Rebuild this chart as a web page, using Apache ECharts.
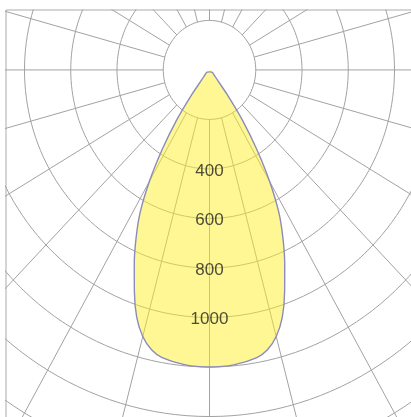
<!DOCTYPE html>
<html>
<head>
<meta charset="utf-8">
<script src="https://cdn.jsdelivr.net/npm/echarts@6/dist/echarts.min.js"></script>
<style>
    html, body { margin: 0; padding: 0; background: #fff; }
    #chart01 { width: 411px; height: 417px; }
</style>
</head>
<body>
<div id="chart01"></div>
<script>
// light distribution, angle from nadir (deg) -> intensity (cd), symmetric
var gammaAngles = [0, 5, 10, 12.5, 15, 17.5, 20, 22.5, 25, 27.5, 30, 32.5, 35, 37.5, 40, 45, 50];
var intensity   = [1200, 1196, 1180, 1158, 1115, 1047, 950, 850, 752, 650, 520, 380, 250, 125, 53, 28, 14];
var apexValue = 8;

// polar grid
var ringValues = [200, 400, 600, 800, 1000, 1200, 1400, 1600, 1800];
var spokeAngles = [0, 15, 30, 45, 60, 75, 90, 105, 120, 135, 150, 165, 180,
                   195, 210, 225, 240, 255, 270, 285, 300, 315, 330, 345];
var labelValues = [400, 600, 800, 1000];

function toXY(deg, r) {
    var a = deg * Math.PI / 180;
    return [r * Math.sin(a), r * Math.cos(a)];
}

function chart01(id) {
    var myChart = echarts.init(document.getElementById(id));
    var gridColor = '#a2a2a2';
    var series = [];

    // rings
    ringValues.forEach(function (r) {
        var pts = [];
        for (var d = 0; d <= 360; d += 2) {
            pts.push(toXY(d, r));
        }
        series.push({
            type: 'line',
            data: pts,
            symbol: 'none',
            silent: true,
            lineStyle: { color: gridColor, width: 1 },
            z: 1
        });
    });

    // spokes, starting at the first ring
    spokeAngles.forEach(function (d) {
        series.push({
            type: 'line',
            data: [toXY(d, ringValues[0]), toXY(d, 2200)],
            symbol: 'none',
            silent: true,
            lineStyle: { color: gridColor, width: 1 },
            z: 1
        });
    });

    // distribution curve, left half mirrored, closed at the apex
    var curve = [[0, apexValue]];
    for (var i = gammaAngles.length - 1; i >= 0; i--) {
        curve.push(toXY(-gammaAngles[i], intensity[i]));
    }
    for (var j = 1; j < gammaAngles.length; j++) {
        curve.push(toXY(gammaAngles[j], intensity[j]));
    }
    curve.push([0, apexValue]);

    series.push({
        type: 'line',
        data: curve,
        symbol: 'none',
        smooth: 0.3,
        silent: true,
        lineStyle: { color: '#8a8cbc', width: 1.4 },
        areaStyle: { color: 'rgba(253,238,36,0.7)', origin: 0 },
        z: 3
    });

    // value labels along nadir
    series.push({
        type: 'scatter',
        data: labelValues.map(function (v) { return [0, v]; }),
        symbolSize: 0,
        silent: true,
        label: {
            show: true,
            position: 'inside',
            offset: [0, 2],
            formatter: function (p) { return p.value[1]; },
            fontFamily: 'Liberation Sans, Arial, sans-serif',
            fontSize: 17,
            color: '#222222'
        },
        z: 5
    });

    var option = {
        animation: false,
        grid: {
            show: true,
            left: 6,
            top: 10,
            width: 407,
            height: 410,
            outerBoundsMode: 'none',
            borderColor: '#ababab',
            borderWidth: 1,
            backgroundColor: '#ffffff'
        },
        xAxis: {
            type: 'value',
            min: -880,
            max: 880,
            show: false
        },
        yAxis: {
            type: 'value',
            inverse: true,
            min: -242,
            max: 1414,
            show: false
        },
        series: series
    };

    myChart.setOption(option);
    return myChart;
}

var chartInit01 = chart01('chart01');
window.addEventListener('resize', function () {
    chartInit01.resize();
});
</script>
</body>
</html>
